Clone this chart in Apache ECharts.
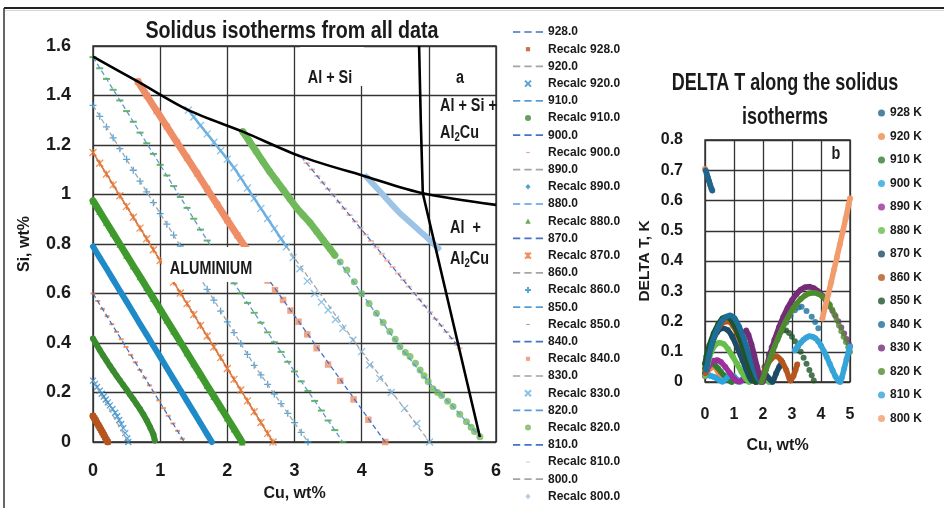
<!DOCTYPE html>
<html>
<head>
<meta charset="utf-8">
<script src="https://cdn.jsdelivr.net/npm/echarts@6/dist/echarts.min.js"></script>
<style>
html, body { margin: 0; padding: 0; background: #fff; }
#chart { width: 944px; height: 508px; }
</style>
</head>
<body>
<div id="chart"></div>
<script>
const FONT = "'Liberation Sans', Arial, sans-serif";
const INK = '#1a1a1a';

// Isotherm temperatures (shared by both panels)
const temps = [928, 920, 910, 900, 890, 880, 870, 860, 850, 840, 830, 820, 810, 800];

// ---- Panel a: isotherm lines, [Cu wt%, Si wt%] ----
const line928 = [[0, 0.105], [0.22, 0]];
const line920 = [[0, 0.248], [0.525, 0]];
const line910 = [[0, 0.418], [0.3, 0.288], [0.6, 0.173], [0.92, 0.006]];
const line900 = [[0, 0.6], [1.36, 0]];
const line890 = [[0, 0.79], [1.77, 0]];
const line880 = [[0, 0.975], [2.22, 0]];
const line870 = [[0, 1.17], [2.68, 0]];
const line860 = [[0, 1.36], [1.5, 0.705], [2.4, 0.31], [3.2, 0]];
const line850 = [[0, 1.555], [2.09, 0.645], [3.72, 0]];
const line840 = [[0.67, 1.456], [2.26, 0.79], [4.35, 0]];
const line830 = [[1.42, 1.341], [2.09, 1.112], [2.88, 0.789], [4.0, 0.365], [5.01, 0]];
const line820 = [[2.23, 1.254], [2.98, 0.964], [3.58, 0.762], [4.0, 0.6], [4.57, 0.385], [4.99, 0.244], [5.36, 0.143], [5.76, 0.021]];
const line810 = [[3.1, 1.153], [3.82, 0.917], [4.72, 0.622], [5.46, 0.379]];
const line800 = [[4.07, 1.072], [4.57, 0.924], [5.14, 0.783]];

// ---- Panel a: recalculated points ----
const recalc928 = [[0,0.105],[0.02,0.096],[0.04,0.087],[0.06,0.077],[0.08,0.068],[0.1,0.058],[0.12,0.049],[0.14,0.039],[0.16,0.029],[0.18,0.019],[0.2,0.009],[0.22,0]];
const recalc920 = [[0,0.248],[0.03,0.235],[0.06,0.222],[0.1,0.207],[0.13,0.195],[0.16,0.184],[0.19,0.172],[0.22,0.16],[0.25,0.148],[0.29,0.133],[0.33,0.118],[0.36,0.104],[0.39,0.089],[0.42,0.073],[0.45,0.056],[0.48,0.036],[0.51,0.014],[0.525,0]];
const recalc910 = [[0,0.418],[0.05,0.395],[0.1,0.372],[0.15,0.35],[0.2,0.329],[0.25,0.308],[0.3,0.288],[0.35,0.268],[0.4,0.249],[0.45,0.23],[0.5,0.211],[0.55,0.192],[0.6,0.173],[0.65,0.153],[0.7,0.133],[0.75,0.111],[0.8,0.087],[0.85,0.06],[0.9,0.03],[0.92,0.006]];
const recalc900 = [[0,0.6],[0.07,0.57],[0.14,0.538],[0.21,0.508],[0.28,0.476],[0.35,0.445],[0.42,0.415],[0.49,0.384],[0.56,0.352],[0.63,0.322],[0.7,0.291],[0.77,0.26],[0.84,0.229],[0.91,0.199],[0.98,0.168],[1.05,0.137],[1.12,0.106],[1.19,0.075],[1.26,0.045],[1.33,0.013]];
const recalc890 = [[0,0.79],[0.1,0.745],[0.2,0.701],[0.3,0.656],[0.4,0.611],[0.5,0.567],[0.6,0.522],[0.7,0.477],[0.8,0.433],[0.9,0.388],[1.0,0.344],[1.1,0.299],[1.2,0.254],[1.3,0.21],[1.4,0.165],[1.5,0.121],[1.6,0.076],[1.7,0.031],[1.77,0]];
const recalc880 = [[0,0.975],[0.1,0.931],[0.2,0.887],[0.3,0.843],[0.4,0.799],[0.5,0.755],[0.6,0.711],[0.7,0.668],[0.8,0.624],[0.9,0.58],[1.0,0.536],[1.1,0.492],[1.2,0.448],[1.3,0.404],[1.4,0.36],[1.5,0.316],[1.6,0.272],[1.7,0.228],[1.8,0.184],[1.9,0.141],[2.0,0.097],[2.1,0.053],[2.22,0]];
const recalc870 = [[0,1.17],[0.1,1.126],[0.2,1.083],[0.3,1.039],[0.4,0.995],[0.5,0.952],[0.6,0.908],[0.7,0.864],[0.8,0.821],[0.9,0.777],[1.0,0.733],[1.1,0.69],[1.2,0.646],[1.3,0.602],[1.4,0.559],[1.5,0.515],[1.6,0.471],[1.7,0.428],[1.8,0.384],[1.9,0.341],[2.0,0.297],[2.1,0.253],[2.2,0.21],[2.3,0.166],[2.4,0.122],[2.5,0.079],[2.6,0.035],[2.68,0]];
const recalc860 = [[0,1.36],[0.1,1.316],[0.2,1.273],[0.3,1.229],[0.4,1.185],[0.5,1.142],[0.6,1.098],[0.7,1.054],[0.8,1.011],[0.9,0.967],[1.0,0.923],[1.1,0.88],[1.2,0.836],[1.3,0.792],[1.4,0.749],[1.5,0.705],[1.6,0.661],[1.7,0.617],[1.8,0.573],[1.9,0.529],[2.0,0.485],[2.1,0.442],[2.2,0.398],[2.3,0.354],[2.4,0.31],[2.5,0.271],[2.6,0.233],[2.7,0.194],[2.8,0.155],[2.9,0.116],[3.0,0.078],[3.1,0.039],[3.2,0]];
const recalc850 = [[0,1.555],[0.1,1.51],[0.2,1.467],[0.3,1.423],[0.4,1.38],[0.5,1.337],[0.6,1.294],[0.7,1.25],[0.8,1.207],[0.9,1.164],[1.0,1.12],[1.1,1.077],[1.2,1.034],[1.3,0.99],[1.4,0.946],[1.5,0.902],[1.6,0.858],[1.7,0.814],[1.8,0.77],[1.9,0.728],[2.0,0.684],[2.1,0.641],[2.2,0.601],[2.3,0.562],[2.4,0.522],[2.5,0.482],[2.6,0.443],[2.7,0.403],[2.8,0.364],[2.9,0.324],[3.0,0.285],[3.1,0.245],[3.2,0.206],[3.3,0.166],[3.4,0.127],[3.5,0.087],[3.6,0.048],[3.72,0]];
const recalc840 = [[0.67,1.456],[0.8,1.4],[0.95,1.337],[1.1,1.274],[1.25,1.211],[1.4,1.148],[1.55,1.085],[1.7,1.022],[1.85,0.959],[2.0,0.896],[2.15,0.835],[2.3,0.775],[2.4,0.735],[2.5,0.694]];
const recalc840Tail = [[2.6,0.652],[2.71,0.614],[2.83,0.574],[2.94,0.531],[3.06,0.486],[3.19,0.435],[3.33,0.379],[3.5,0.313],[3.68,0.247],[3.88,0.172],[4.1,0.09],[4.35,0]];
const recalc830 = [[1.42,1.341],[1.5,1.313],[1.6,1.279],[1.7,1.245],[1.8,1.211],[1.9,1.177],[2.0,1.143],[2.1,1.108],[2.2,1.067],[2.3,1.026],[2.4,0.985],[2.5,0.944],[2.6,0.903],[2.7,0.862],[2.8,0.821],[2.88,0.789]];
const recalc830Tail = [[2.98,0.745],[3.08,0.7],[3.19,0.65],[3.3,0.6],[3.4,0.565],[3.5,0.533],[3.61,0.495],[3.72,0.459],[3.87,0.412],[4.0,0.365],[4.12,0.311],[4.27,0.257],[4.44,0.2],[4.64,0.136],[4.82,0.075],[5.01,0]];
const recalc820 = [[2.23,1.254],[2.33,1.214],[2.43,1.174],[2.53,1.133],[2.63,1.093],[2.73,1.056],[2.83,1.02],[2.93,0.983],[3.03,0.946],[3.13,0.916],[3.23,0.886],[3.33,0.851],[3.43,0.815],[3.53,0.78],[3.6,0.755]];
const recalc820Tail = [[3.68,0.727],[3.78,0.695],[3.89,0.647],[4.0,0.6],[4.11,0.56],[4.22,0.52],[4.32,0.483],[4.42,0.446],[4.5,0.415],[4.57,0.385],[4.65,0.362],[4.72,0.345],[4.8,0.318],[4.87,0.291],[4.93,0.268],[4.99,0.244],[5.06,0.215],[5.13,0.2],[5.19,0.188],[5.28,0.165],[5.36,0.143],[5.46,0.112],[5.56,0.082],[5.63,0.06],[5.68,0.042],[5.76,0.021]];
const recalc810 = [[3.1,1.153],[3.18,1.127],[3.26,1.101],[3.34,1.074],[3.42,1.048],[3.5,1.022],[3.58,0.996],[3.66,0.969],[3.74,0.943],[3.82,0.917],[3.9,0.891],[3.98,0.864],[4.06,0.838],[4.14,0.812],[4.22,0.786],[4.3,0.76],[4.38,0.733],[4.46,0.707],[4.54,0.681],[4.62,0.655],[4.7,0.628],[4.78,0.602],[4.86,0.576],[4.94,0.55],[5.02,0.524],[5.1,0.497],[5.18,0.471],[5.26,0.445],[5.34,0.419],[5.42,0.392],[5.46,0.379]];
const recalc800 = [[4.07,1.072],[4.17,1.042],[4.27,1.013],[4.37,0.983],[4.47,0.953],[4.57,0.924],[4.67,0.9],[4.77,0.876],[4.87,0.851],[4.97,0.827],[5.07,0.801],[5.14,0.783]];

// Phase boundaries of panel a
const solidusCurve = [[0,1.557],[0.67,1.456],[1.42,1.341],[2.23,1.254],[3.1,1.153],[4.07,1.072],[4.91,1.005],[6,0.958]];
const eutecticValley = [[4.855,1.6],[4.88,1.3],[4.91,1.005],[5.76,0.02]];

// ---- Panel b: DELTA T along each isotherm, [Cu wt%, K] ----
const dt928 = [[0.02,0.7],[0.06,0.688],[0.1,0.676],[0.14,0.664],[0.18,0.651],[0.22,0.64],[0.25,0.633]];
const dt920 = [[0.03,0.025],[0.1,0.035],[0.18,0.045],[0.26,0.05],[0.34,0.05],[0.42,0.04],[0.5,0.022]];
const dt920Tail = [[0,0.705]];
const dt910 = [[0,0.045],[0.08,0.058],[0.16,0.064],[0.25,0.062],[0.35,0.055],[0.45,0.045],[0.55,0.033],[0.65,0.022],[0.75,0.012],[0.85,0.004],[0.92,0]];
const dt900 = [[0,0.022],[0.1,0.022],[0.2,0.02],[0.3,0.017],[0.4,0.012],[0.5,0.006],[0.6,0.001],[0.7,0.008],[0.8,0.018],[0.9,0.022],[1.0,0.018],[1.1,0.008],[1.2,0],[1.3,0.01]];
const dt890 = [[0,0.02],[0.1,0.045],[0.2,0.062],[0.3,0.07],[0.42,0.072],[0.55,0.066],[0.7,0.05],[0.85,0.03],[1.0,0.012],[1.12,0.002],[1.25,0.004],[1.4,0.015],[1.55,0.018],[1.68,0.01],[1.77,0]];
const dt880 = [[0,0.02],[0.1,0.06],[0.22,0.1],[0.35,0.122],[0.5,0.13],[0.65,0.125],[0.8,0.108],[0.95,0.085],[1.1,0.06],[1.25,0.035],[1.4,0.012],[1.52,0],[1.65,0.012],[1.8,0.025],[1.95,0.022],[2.1,0.01],[2.21,0]];
const dt870 = [[0,0.03],[0.1,0.075],[0.25,0.128],[0.42,0.165],[0.6,0.178],[0.78,0.172],[0.95,0.148],[1.12,0.112],[1.3,0.07],[1.47,0.03],[1.62,0.004],[1.75,0.005],[1.9,0.025],[2.05,0.028],[2.2,0.012],[2.32,0],[2.45,0.028],[2.56,0.05],[2.66,0.065]];
const dt860 = [[0.02,0.03],[0.12,0.08],[0.27,0.135],[0.45,0.178],[0.65,0.198],[0.8,0.2],[0.97,0.185],[1.15,0.152],[1.33,0.108],[1.5,0.062],[1.67,0.022],[1.8,0.002],[1.95,0.02],[2.1,0.048],[2.27,0.075],[2.45,0.085],[2.62,0.072],[2.8,0.04],[2.95,0.005],[3.05,0.02],[3.12,0.04],[3.18,0.058]];
const dt850 = [[0,0.06],[0.05,0.085],[0.15,0.12],[0.3,0.16],[0.45,0.19],[0.6,0.21],[0.75,0.215],[0.9,0.205],[1.05,0.18],[1.2,0.145],[1.35,0.102],[1.5,0.058],[1.65,0.018],[1.75,0]];
const dt850Tail = [[1.9,0.02],[2.05,0.05],[2.2,0.09],[2.3,0.115],[2.4,0.14],[2.5,0.155],[2.6,0.165],[2.7,0.171],[2.8,0.17],[2.9,0.162],[3.0,0.15],[3.1,0.135],[3.2,0.118],[3.3,0.1],[3.4,0.08],[3.5,0.06],[3.6,0.04],[3.68,0.022],[3.75,0.005]];
const dt840 = [[0.05,0.04],[0.12,0.08],[0.22,0.12],[0.35,0.158],[0.5,0.19],[0.68,0.212],[0.86,0.22],[1.02,0.21],[1.18,0.182],[1.35,0.14],[1.5,0.095],[1.65,0.052],[1.8,0.015],[1.92,0]];
const dt840Tail = [[2.05,0.03],[2.2,0.07],[2.35,0.105],[2.5,0.14],[2.65,0.17],[2.8,0.197],[2.95,0.22],[3.1,0.237],[3.22,0.246],[3.33,0.249],[3.5,0.235],[3.68,0.216],[3.8,0.198],[3.91,0.178]];
const dt830 = [[1.42,0.17],[1.5,0.155],[1.6,0.125],[1.7,0.088],[1.8,0.05],[1.9,0.015],[1.98,0],[2.1,0.045],[2.25,0.095],[2.4,0.14],[2.55,0.18],[2.7,0.215],[2.85,0.245],[3.0,0.27],[3.15,0.29],[3.3,0.305],[3.45,0.313],[3.6,0.315],[3.75,0.31],[3.9,0.3],[4.05,0.285],[4.2,0.265]];
const dt830Tail = [[4.3,0.25],[4.4,0.235],[4.5,0.218],[4.6,0.2],[4.7,0.18],[4.8,0.16],[4.88,0.142],[4.95,0.128],[5.0,0.118]];
const dt820 = [[1.95,0],[2.1,0.04],[2.25,0.08],[2.4,0.118],[2.55,0.152],[2.7,0.185],[2.85,0.212],[3.0,0.237],[3.15,0.258],[3.3,0.274],[3.45,0.286],[3.6,0.293],[3.75,0.295],[3.9,0.292],[4.05,0.283],[4.2,0.268],[4.3,0.255]];
const dt820Tail = [[4.38,0.24],[4.46,0.224],[4.54,0.205],[4.62,0.187],[4.7,0.168],[4.78,0.15],[4.86,0.132],[4.94,0.115],[5.0,0.1]];
const dt810 = [[3.1,0.105],[3.2,0.118],[3.3,0.13],[3.4,0.14],[3.5,0.147],[3.6,0.151],[3.7,0.15],[3.8,0.145],[3.9,0.135],[4.0,0.12],[4.1,0.102],[4.2,0.082],[4.3,0.06],[4.4,0.038],[4.5,0.018],[4.6,0.004],[4.66,0],[4.72,0.015],[4.8,0.045],[4.88,0.075],[4.95,0.1],[5.0,0.117]];
const dt800 = [[4.05,0.21],[4.15,0.25],[4.25,0.29],[4.35,0.33],[4.45,0.372],[4.55,0.413],[4.65,0.455],[4.75,0.497],[4.85,0.54],[4.95,0.585],[5.0,0.607]];

// ---- lookup tables built from the arrays above ----
const isoLines = {928: line928, 920: line920, 910: line910, 900: line900, 890: line890, 880: line880, 870: line870,
  860: line860, 850: line850, 840: line840, 830: line830, 820: line820, 810: line810, 800: line800};
const recalcMain = {928: recalc928, 920: recalc920, 910: recalc910, 900: recalc900, 890: recalc890, 880: recalc880,
  870: recalc870, 860: recalc860, 850: recalc850, 840: recalc840, 830: recalc830, 820: recalc820, 810: recalc810, 800: recalc800};
const recalcTail = {840: recalc840Tail, 830: recalc830Tail, 820: recalc820Tail};
const dtMain = {928: dt928, 920: dt920, 910: dt910, 900: dt900, 890: dt890, 880: dt880, 870: dt870,
  860: dt860, 850: dt850, 840: dt840, 830: dt830, 820: dt820, 810: dt810, 800: dt800};
const dtTail = {920: dt920Tail, 850: dt850Tail, 840: dt840Tail, 830: dt830Tail, 820: dt820Tail};

// ---- marker styles ----
const SYM_X = 'path://M0,0L8,8M8,0L0,8';
const SYM_PLUS = 'path://M4,0V8M0,4H8';
const SYM_STAR = 'path://M0,0L8,8M8,0L0,8M4,0V8';
// legend icons padded inside a 10x10 frame so they keep a small marker size
const ICON_DASH = 'path://M0,0M10,10M2,4.2H8V5.8H2Z';
const ICON_SQUARE = 'path://M0,0M10,10M1.5,1.5H8.5V8.5H1.5Z';
const ICON_DIAMOND = 'path://M0,0M10,10M5,0.3L9.2,5L5,9.7L0.8,5Z';
const ICON_TRIANGLE = 'path://M0,0M10,10M5,0.5L9.6,9.2L0.4,9.2Z';
const ICON_DASHED_LINE = 'path://M0,0H7V1.6H0ZM11,0H18V1.6H11ZM22,0H29V1.6H22Z';
const dashColors = ['#4472C4', '#A5A5A5', '#5B9BD5'];

const recalcStyle = {
  928: {symbol: 'rect', size: 6, color: '#B5541F', band: 7, icon: ICON_SQUARE},
  920: {symbol: SYM_X, size: 6, color: '#2E8BC9', stroke: true},
  910: {symbol: 'circle', size: 6, color: '#3A8A2E', band: 6},
  900: {symbol: 'rect', size: [5, 2], color: '#EA7A3C', icon: ICON_DASH},
  890: {symbol: 'diamond', size: 7, color: '#1F8AC8', band: 6, icon: ICON_DIAMOND},
  880: {symbol: 'triangle', size: 7, color: '#3E9A2C', band: 7, icon: ICON_TRIANGLE},
  870: {symbol: SYM_STAR, size: 7, color: '#E8762F', stroke: true, band: 1.5},
  860: {symbol: SYM_PLUS, size: 7, color: '#2A90D0', stroke: true},
  850: {symbol: 'rect', size: [7, 2], color: '#43A233', icon: ICON_DASH},
  840: {symbol: 'rect', size: 6.5, color: '#EF8E66', band: 7, icon: ICON_SQUARE},
  830: {symbol: SYM_X, size: 7, color: '#6DB1E2', stroke: true, band: 2.5},
  820: {symbol: 'circle', size: 7, color: '#70B95A', band: 7},
  810: {symbol: 'rect', size: [6, 2], color: '#F3AB95', icon: ICON_DASH},
  800: {symbol: 'diamond', size: 7, color: '#9DC3E6', band: 6, icon: ICON_DIAMOND}
};

const dtColors = {928: '#21658A', 920: '#F0894A', 910: '#2F7D32', 900: '#29A6DF', 890: '#9E2E9C', 880: '#67BE48',
  870: '#1C4B66', 860: '#B4561D', 850: '#1F5328', 840: '#1B6F99', 830: '#742B78', 820: '#4D8B2D', 810: '#35A4D9', 800: '#F39C6B'};

// ---- series ----
const series = [];
const legendA = [];
temps.forEach((t, i) => {
  const name = t.toFixed(1);
  const col = dashColors[i % 3];
  series.push({
    name, type: 'line', xAxisIndex: 0, yAxisIndex: 0, data: isoLines[t], symbol: 'none', silent: true,
    lineStyle: {color: col, width: 1.3, type: [5, 3]}, itemStyle: {color: col}
  });
  legendA.push({name, icon: ICON_DASHED_LINE, itemStyle: {color: col}});
  const st = recalcStyle[t];
  const rname = 'Recalc ' + name;
  series.push({
    name: rname, type: 'scatter', xAxisIndex: 0, yAxisIndex: 0,
    data: recalcMain[t].concat(recalcTail[t] || []),
    symbol: st.symbol, symbolSize: st.size, silent: true,
    itemStyle: st.stroke ? {color: st.color, borderColor: st.color, borderWidth: 1.3} : {color: st.color, borderWidth: 0}
  });
  if (st.band) {
    // continuous trace under the densely spaced points
    series.push({
      name: rname + ' trace', type: 'line', xAxisIndex: 0, yAxisIndex: 0, data: recalcMain[t], symbol: 'none', silent: true,
      lineStyle: {color: st.color, width: st.band, cap: 'round', join: 'round'}, itemStyle: {color: st.color}
    });
  }
  legendA.push(st.icon ? {name: rname, icon: st.icon, itemStyle: {color: st.color, borderWidth: 0}} : {name: rname});
});

series.push({
  name: 'solidus', type: 'line', xAxisIndex: 0, yAxisIndex: 0, data: solidusCurve, symbol: 'none', silent: true,
  smooth: 0.3, lineStyle: {color: '#000', width: 2.6}, z: 5
});
series.push({
  name: 'eutectic', type: 'line', xAxisIndex: 0, yAxisIndex: 0, data: eutecticValley, symbol: 'none', silent: true,
  lineStyle: {color: '#000', width: 2.6}, z: 5
});

const legendB = [];
temps.forEach((t) => {
  const name = t + ' K';
  const col = dtColors[t];
  series.push({
    name, type: 'scatter', xAxisIndex: 1, yAxisIndex: 1, data: dtMain[t].concat(dtTail[t] || []),
    symbol: 'circle', symbolSize: 6, silent: true, itemStyle: {color: col}
  });
  series.push({
    name: name + ' trace', type: 'line', xAxisIndex: 1, yAxisIndex: 1, data: dtMain[t], symbol: 'none', silent: true, smooth: 0.3,
    lineStyle: {color: col, width: 5.5, cap: 'round', join: 'round'}, itemStyle: {color: col}
  });
  legendB.push({name, icon: 'circle'});
});

const axisText = (size, weight) => ({color: INK, fontFamily: FONT, fontSize: size, fontWeight: weight || 'normal'});
const gridLine = {show: true, lineStyle: {color: '#333', width: 1.3}};

// narrow-set text: horizontally compressed to the condensed face of the figure
const narrowText = (text, x, y, size, align, sx, extra) => ({
  type: 'text', z: 110, x, y, scaleX: sx,
  style: Object.assign({text, x: 0, y: 0, align, verticalAlign: 'middle', fill: INK, fontSize: size, fontFamily: FONT, fontWeight: 'bold'}, extra || {})
});
const alCuText = (x, y) => ({
  type: 'text', z: 110, x, y, scaleX: 0.8,
  style: {
    x: 0, y: 0, align: 'left', verticalAlign: 'middle',
    text: '{n|Al}{s|2}{n|Cu}',
    rich: {
      n: {fontSize: 18, fontFamily: FONT, fontWeight: 'bold', fill: INK, lineHeight: 22, verticalAlign: 'middle'},
      s: {fontSize: 12, fontFamily: FONT, fontWeight: 'bold', fill: INK, lineHeight: 22, verticalAlign: 'bottom'}
    }
  }
});

const option = {
  animation: false,
  backgroundColor: '#fff',
  legend: [
    {data: legendA, orient: 'vertical', left: 513, top: 25, padding: 0, itemWidth: 30, itemHeight: 6, itemGap: 3.2,
      selectedMode: false, textStyle: {fontFamily: FONT, fontSize: 12, fontWeight: 'bold', color: INK, lineHeight: 14}},
    {data: legendB, orient: 'vertical', left: 878, top: 105.5, padding: 0, itemWidth: 7, itemHeight: 7, itemGap: 8.5,
      selectedMode: false, textStyle: {fontFamily: FONT, fontSize: 12, fontWeight: 'bold', color: INK, lineHeight: 15}}
  ],
  grid: [
    {left: 93, top: 46, width: 403, height: 396, show: true, borderColor: '#222', borderWidth: 1.3, backgroundColor: 'transparent'},
    {left: 705, top: 140, width: 145, height: 242, show: true, borderColor: '#222', borderWidth: 1.3, backgroundColor: 'transparent'}
  ],
  xAxis: [
    {gridIndex: 0, type: 'value', min: 0, max: 6, interval: 1, name: 'Cu, wt%', nameLocation: 'middle', nameGap: 44,
      nameTextStyle: axisText(16, 'bold'), axisLabel: Object.assign({margin: 20}, axisText(18, 'bold')),
      axisLine: {show: false}, axisTick: {show: false}, splitLine: gridLine},
    {gridIndex: 1, type: 'value', min: 0, max: 5, interval: 1, name: 'Cu, wt%', nameLocation: 'middle', nameGap: 56,
      nameTextStyle: axisText(16, 'bold'), axisLabel: Object.assign({margin: 25}, axisText(16, 'bold')),
      axisLine: {show: false}, axisTick: {show: false}, splitLine: gridLine}
  ],
  yAxis: [
    {gridIndex: 0, type: 'value', min: 0, max: 1.6, interval: 0.2, name: 'Si, wt%', nameLocation: 'middle', nameGap: 60,
      nameTextStyle: axisText(16, 'bold'), axisLabel: Object.assign({margin: 22}, axisText(18, 'bold')),
      axisLine: {show: false}, axisTick: {show: false}, splitLine: gridLine},
    {gridIndex: 1, type: 'value', min: 0, max: 0.8, interval: 0.1, name: 'DELTA T, K', nameLocation: 'middle', nameGap: 52,
      nameTextStyle: axisText(15.5, 'bold'), axisLabel: Object.assign({margin: 22}, axisText(16, 'bold')),
      axisLine: {show: false}, axisTick: {show: false}, splitLine: gridLine}
  ],
  series,
  graphic: [
    // outer frame
    {type: 'line', z: 120, shape: {x1: 4, y1: 8, x2: 944, y2: 8}, style: {stroke: '#222', lineWidth: 2}},
    {type: 'line', z: 120, shape: {x1: 4, y1: 10.5, x2: 944, y2: 10.5}, style: {stroke: '#d8d8d8', lineWidth: 1}},
    {type: 'line', z: 120, shape: {x1: 4, y1: 8, x2: 4, y2: 508}, style: {stroke: '#333', lineWidth: 1.5}},
    // titles
    narrowText('Solidus isotherms from all data', 292, 31, 24, 'center', 0.82),
    narrowText('DELTA T along the solidus\nisotherms', 785, 100, 24, 'center', 0.75, {lineHeight: 34}),
    // phase-field labels
    {type: 'rect', z: 100, shape: {x: 300, y: 47, width: 64, height: 39}, style: {fill: '#fff'}},
    narrowText('Al + Si', 330, 78, 18, 'center', 0.8),
    narrowText('a', 460, 78, 18, 'center', 0.8),
    narrowText('Al + Si +', 440, 106, 18, 'left', 0.8),
    alCuText(440, 133),
    narrowText('Al  +', 450, 228, 18, 'left', 0.8),
    alCuText(450, 259),
    {type: 'rect', z: 100, shape: {x: 162, y: 247, width: 110, height: 35}, style: {fill: '#fff'}},
    narrowText('ALUMINIUM', 211, 269, 18, 'center', 0.8),
    narrowText('b', 836, 154, 18, 'center', 0.8)
  ]
};

const chart = echarts.init(document.getElementById('chart'), null, {renderer: 'canvas'});
chart.setOption(option);
</script>
</body>
</html>
